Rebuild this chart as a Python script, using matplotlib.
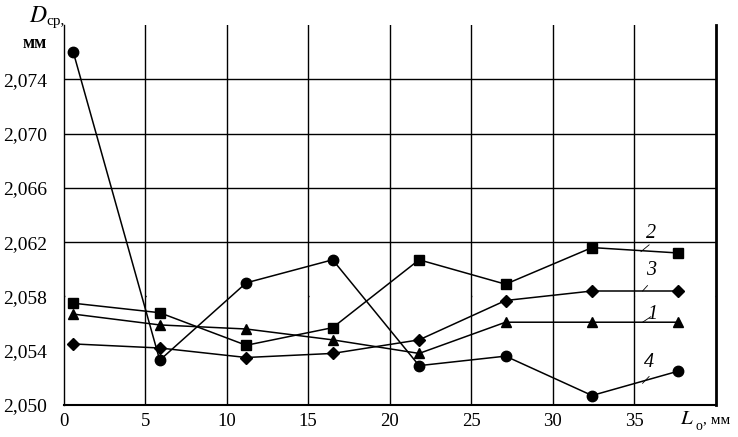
import matplotlib
matplotlib.use("Agg")
import matplotlib.pyplot as plt

plt.rcParams['font.family'] = ['Liberation Serif', 'DejaVu Serif']

# lengths L_o, mm
L = [0.6, 5.9, 11.2, 16.5, 21.8, 27.1, 32.4, 37.7]

# mean diameter D_cp, mm
d1 = [2.0567, 2.0559, 2.0556, 2.0548, 2.0538, 2.0561, 2.0561, 2.0561]   # triangles
d2 = [2.0575, 2.0568, 2.0544, 2.0557, 2.0607, 2.0589, 2.0616, 2.0612]   # squares
d3 = [2.0545, 2.0542, 2.0535, 2.0538, 2.0548, 2.0577, 2.0584, 2.0584]   # diamonds
d4 = [2.0760, 2.0533, 2.0590, 2.0607, 2.0529, 2.0536, 2.0507, 2.0525]   # circles

xticks = [0, 5, 10, 15, 20, 25, 30, 35]
yticks = [2.050, 2.054, 2.058, 2.062, 2.066, 2.070, 2.074]

fig = plt.figure(figsize=(7.38, 4.37), dpi=100)
ax = fig.add_axes([63.5/738, 1 - 405/437, (716 - 63.5)/738, 380/437])

# grid
for x in xticks[1:]:
    ax.axvline(x, color='k', lw=1.0, zorder=1)
for y in [2.062, 2.066, 2.070, 2.074]:
    ax.axhline(y, color='k', lw=1.0, zorder=1)
ax.axhline(2.058, color='k', lw=1.0, ls=(0, (0.6, 58)), zorder=1)

ax.plot(L, d1, 'k-', marker='^', ms=7, lw=1.1, zorder=3)
ax.plot(L, d2, 'k-', marker='s', ms=7, lw=1.1, zorder=3)
ax.plot(L, d3, 'k-', marker='D', ms=6.3, lw=1.1, zorder=3)
ax.plot(L, d4, 'k-', marker='o', ms=7.5, lw=1.1, zorder=3)

ax.set_xlim(0, 40)
ax.set_ylim(2.050, 2.078)
ax.set_xticks(xticks)
ax.set_xticklabels([str(v) for v in xticks], fontsize=13.5)
ax.set_yticks(yticks)
ax.set_yticklabels([('%.3f' % v).replace('.', ',') for v in yticks], fontsize=14)
ax.tick_params(length=0, pad=12)
ax.tick_params(axis='x', pad=6)

ax.spines['top'].set_visible(False)
ax.spines['right'].set_linewidth(2.0)
ax.spines['left'].set_linewidth(1.0)
ax.spines['bottom'].set_linewidth(1.5)

# curve labels with leader lines
labels = [('2', 36.0, 2.0626, (35.4, 2.0613), (35.9, 2.0618)),
          ('3', 36.0, 2.0599, (35.5, 2.0584), (35.8, 2.0588)),
          ('1', 36.1, 2.0567, (35.5, 2.0561), (36.0, 2.0565)),
          ('4', 35.9, 2.0531, (35.5, 2.0516), (35.9, 2.0521))]
for txt, tx, ty, p0, p1 in labels:
    ax.text(tx, ty, txt, fontsize=14.5, style='italic', ha='center', va='center')
    ax.plot([p0[0], p1[0]], [p0[1], p1[1]], 'k-', lw=0.6, zorder=2)

fig.text(29/738, 1 - 16/437, r'$D$', fontsize=17, ha='left', va='center',
         math_fontfamily='stix')
fig.text(46/738, 1 - 25/437, 'ср,', fontsize=11, ha='left', va='baseline')
fig.text(23/738, 1 - 43/437, 'мм', fontsize=13, fontweight='bold',
         ha='left', va='center')

fig.text(680/738, 1 - 420/437, r'$L$', fontsize=15, ha='left', va='center',
         math_fontfamily='stix')
fig.text(696/738, 1 - 426/437, 'о', fontsize=10, ha='left', va='center')
fig.text(703/738, 1 - 420/437, ', мм', fontsize=11, ha='left', va='center')

fig.savefig('out.png', dpi=100)
